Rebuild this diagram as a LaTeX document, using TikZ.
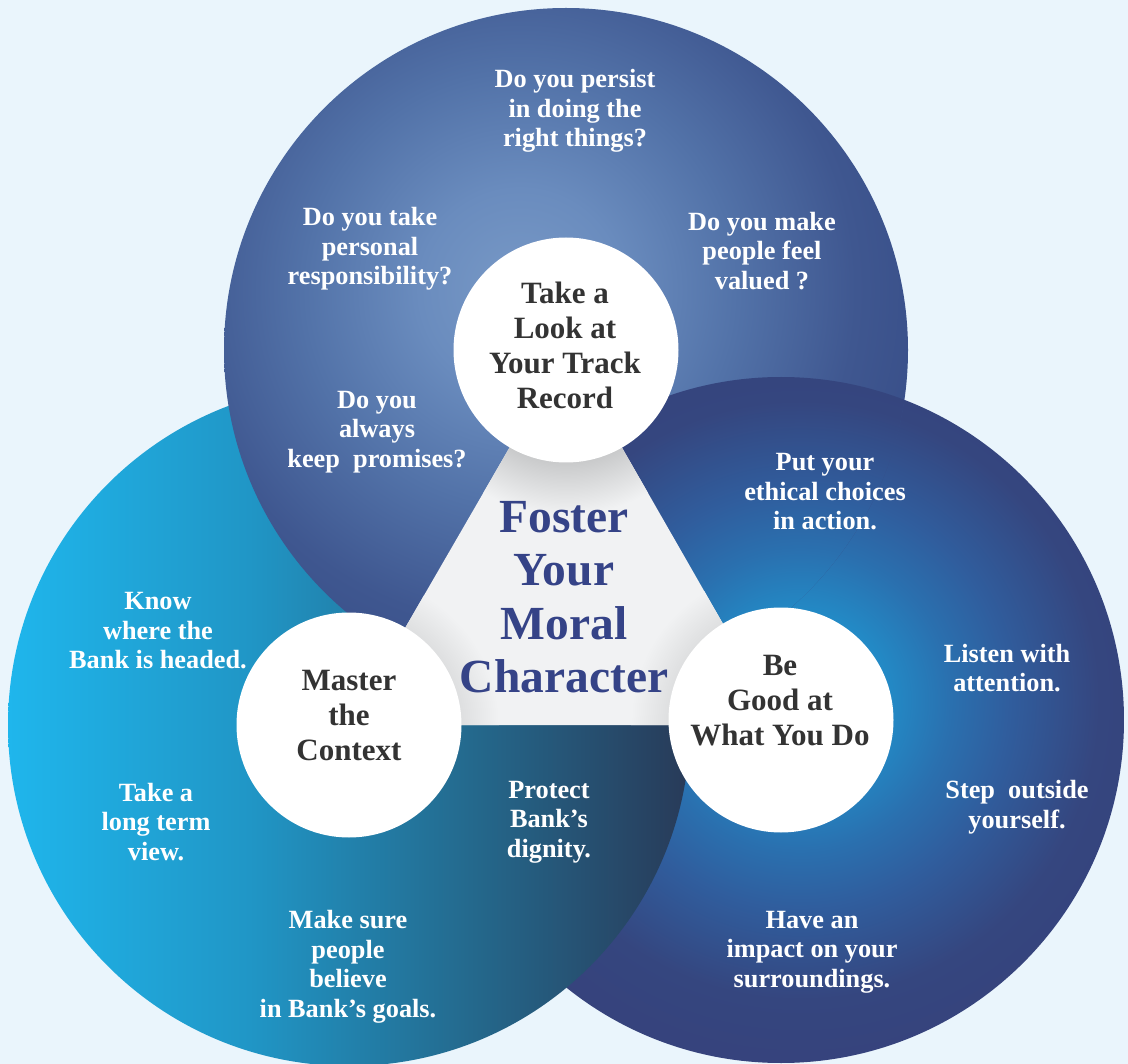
\documentclass[tikz,border=0pt]{standalone}
\usepackage{fontspec}
\setmainfont{Liberation Serif}
\definecolor{bg}{HTML}{EAF5FC}
\definecolor{tA}{HTML}{7899C6}
\definecolor{tB}{HTML}{6A8CBE}
\definecolor{tC}{HTML}{5272A8}
\definecolor{tD}{HTML}{3F5790}
\definecolor{tE}{HTML}{384E88}
\definecolor{rA}{HTML}{1FA0DA}
\definecolor{rB}{HTML}{2389C5}
\definecolor{rC}{HTML}{2A70AF}
\definecolor{rD}{HTML}{305D9D}
\definecolor{rE}{HTML}{35467F}
\definecolor{rF}{HTML}{36427C}
\definecolor{lA}{HTML}{1FB6EC}
\definecolor{lB}{HTML}{2096C6}
\definecolor{lC}{HTML}{24698D}
\definecolor{lD}{HTML}{283A58}
\definecolor{tricol}{HTML}{F1F2F3}
\definecolor{shd}{HTML}{C9CACB}
\definecolor{shdl}{HTML}{DEDFE0}
\definecolor{darktxt}{HTML}{333333}
\definecolor{centtxt}{HTML}{354387}
\pgfdeclareradialshading{topsh}{\pgfpoint{0bp}{0bp}}{color(0bp)=(tA); color(6bp)=(tB); color(13bp)=(tC); color(20bp)=(tD); color(25bp)=(tE); color(50bp)=(tE)}
\pgfdeclareradialshading{rightsh}{\pgfpoint{0bp}{0bp}}{color(0bp)=(rA); color(5.9bp)=(rB); color(9.9bp)=(rC); color(13.8bp)=(rD); color(19.7bp)=(rE); color(25bp)=(rF); color(50bp)=(rF)}
\pgfdeclarehorizontalshading{leftsh}{100bp}{color(0bp)=(lA); color(25bp)=(lA); color(42.7bp)=(lB); color(58.9bp)=(lC); color(75bp)=(lD); color(100bp)=(lD)}
\pgfdeclareradialshading{shadowsh}{\pgfpoint{0bp}{0bp}}{color(0bp)=(shd); color(17bp)=(shd); color(25bp)=(tricol); color(50bp)=(tricol)}
\pgfdeclareradialshading{shadowlt}{\pgfpoint{0bp}{0bp}}{color(0bp)=(shdl); color(18.7bp)=(shdl); color(25bp)=(tricol); color(50bp)=(tricol)}
\tikzset{
  wtext/.style={text=white, align=center, inner sep=0pt, font=\fontsize{26.3}{29.5}\selectfont\bfseries},
  dtext/.style={text=darktxt, align=center, inner sep=0pt, font=\fontsize{31}{35}\selectfont\bfseries},
  ctext/.style={text=centtxt, align=center, inner sep=0pt, font=\fontsize{47.5}{53.5}\selectfont\bfseries},
  whitecirc/.style={circle, fill=white, minimum size=225pt, inner sep=0pt}
}
\begin{document}
\begin{tikzpicture}[x=1pt,y=-1pt]
\useasboundingbox (0,0) rectangle (1128,1064);
\fill[bg] (0,0) rectangle (1128,1064);
\coordinate (T) at (566,350);
\coordinate (L) at (349,725);
\coordinate (R) at (781,720);
\coordinate (Rb) at (781,725);
% right big circle
\begin{scope}
  \clip (R) circle (343pt);
  \shade[shading=rightsh] (800,700) circle (380pt);
\end{scope}
% left big circle
\shade[shading=leftsh] (L) circle (341pt);
% top big circle
\begin{scope}
  \clip (T) circle (342pt);
  \shade[shading=topsh] (520,290) circle (420pt);
\end{scope}
% right circle again over the top one, but under the left one
\begin{scope}[even odd rule]
  \clip (-10,-10) rectangle (1140,1080) (L) circle (341pt);
  \clip (T) circle (342pt);
  \clip (R) circle (343pt);
  \shade[shading=rightsh] (800,700) circle (380pt);
\end{scope}
% central triangle
\fill[tricol] (T) -- (L) -- (Rb) -- cycle;
\begin{scope}
  \clip (T) -- (L) -- (Rb) -- cycle;
  \shade[shading=shadowsh] (T) circle (165pt);
  \shade[shading=shadowlt] (L) circle (150pt);
  \shade[shading=shadowlt] (R) circle (150pt);
\end{scope}
% white circles
\node[whitecirc] (tc) at (T) {};
\node[whitecirc] (lc) at (L) {};
\node[whitecirc] (rc) at (R) {};
% circle titles
\node[dtext] (tct) at (565,345) {Take a\\Look at\\Your Track\\Record};
\node[dtext] (lct) at (349,716) {Master\\the\\Context};
\node[dtext] (rct) at (780,701) {Be\\Good at\\What You Do};
% centre text
\node[ctext] (cen) at (564,597) {Foster\\Your\\Moral\\Character};
% top circle texts
\node[wtext] (t1) at (575,111) {Do you persist\\in doing the\\right things?};
\node[wtext] (t2) at (370,249) {Do you take\\personal\\responsibility?};
\node[wtext] (t3) at (762,251) {Do you make\\people feel\\valued ?};
\node[wtext] (t4) at (377,432) {Do you\\always\\keep\ \ promises?};
% right circle texts
\node[wtext] (r1) at (825,492) {Put your\\ethical choices\\in action.};
\node[wtext] (r2) at (1007,668) {Listen with\\attention.};
\node[wtext] (r3) at (1017,807) {Step\ \ outside\\yourself.};
\node[wtext] (r4) at (812,952) {Have an\\impact on your\\surroundings.};
% left circle texts
\node[wtext] (l1) at (158,631) {Know\\where the\\Bank is headed.};
\node[wtext] (l2) at (156,822) {Take a\\long term\\view.};
\node[wtext] (l3) at (348,967) {Make sure\\people\\believe\\in Bank’s goals.};
\node[wtext] (l4) at (549,822) {Protect\\Bank’s\\dignity.};
\end{tikzpicture}
\end{document}
